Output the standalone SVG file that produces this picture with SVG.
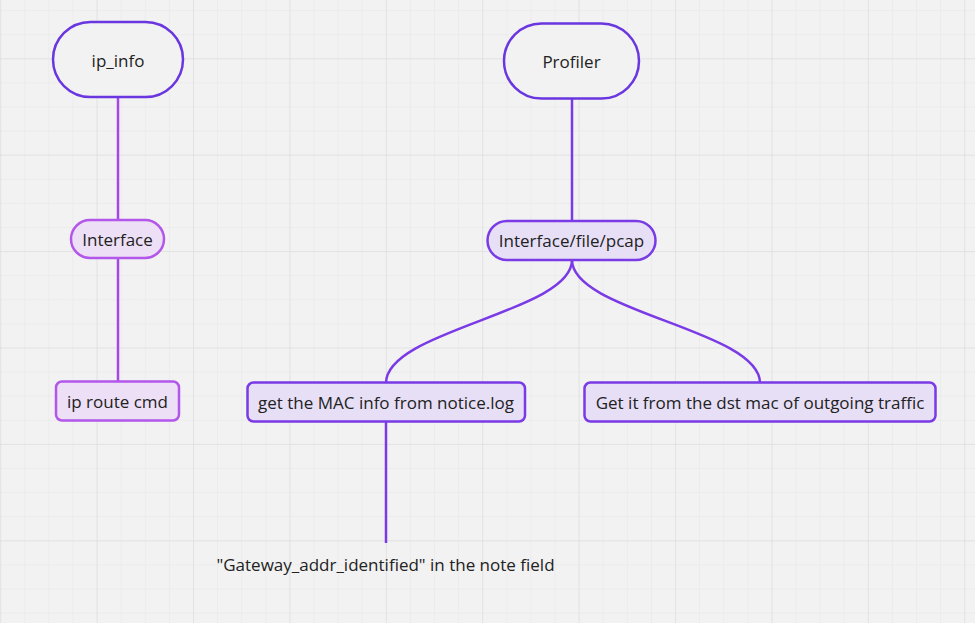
<svg xmlns="http://www.w3.org/2000/svg" width="975" height="623" viewBox="0 0 975 623">
<defs>
<pattern id="minor" x="0.2" y="10.1" width="24.1" height="24.1" patternUnits="userSpaceOnUse">
<path d="M0,0 H24.1 M0,0 V24.1" fill="none" stroke="#e6e6e6" stroke-width="1"/>
</pattern>
<pattern id="major" x="0.2" y="58.3" width="96.4" height="96.4" patternUnits="userSpaceOnUse">
<path d="M0,0 H96.4 M0,0 V96.4" fill="none" stroke="#dadada" stroke-width="1"/>
</pattern>
<style>
text{font-family:"Open Sans","Noto Sans","Liberation Sans",sans-serif;font-size:17px;fill:#222;text-anchor:middle;dominant-baseline:central}
.big{fill:#f2f2f2;stroke:#6a36e0;stroke-width:2.5}
.pink{fill:#eddff6;stroke:#b356ea;stroke-width:2.5}
.violet{fill:#e7dff6;stroke:#7a3ae6;stroke-width:2.5}
.cp{fill:none;stroke:#a547e4;stroke-width:2.5}
.cv{fill:none;stroke:#7a3ae6;stroke-width:2.5}
</style>
</defs>
<rect width="975" height="623" fill="#f2f2f2"/>
<rect width="975" height="623" fill="url(#minor)"/>
<rect width="975" height="623" fill="url(#major)"/>
<g id="connectors">
<path class="cp" d="M118,97 V220"/>
<path class="cp" d="M118,258 V382"/>
<path class="cv" d="M572,98 V221"/>
<path class="cv" d="M572,260 C572,312 386,330 386,383"/>
<path class="cv" d="M572,260 C572,312 760,330 760,383"/>
<path class="cv" d="M386,421 V543"/>
</g>
<g id="ip_info">
<rect class="big" x="53" y="22" width="130" height="75" rx="37.5"/>
<text x="118" y="60">ip_info</text>
</g>
<g id="interface">
<rect class="pink" x="71" y="220" width="93" height="38" rx="19"/>
<text x="117.5" y="239.5">Interface</text>
</g>
<g id="ip_route">
<rect class="pink" x="56" y="381.5" width="123" height="39" rx="6"/>
<text x="117.5" y="401.5">ip route cmd</text>
</g>
<g id="profiler">
<rect class="big" x="504" y="23.5" width="135" height="75" rx="37.5"/>
<text x="571.5" y="61">Profiler</text>
</g>
<g id="iface_file_pcap">
<rect class="violet" x="487.5" y="221" width="168" height="39" rx="19.5"/>
<text x="571.5" y="240.5">Interface/file/pcap</text>
</g>
<g id="mac_notice">
<rect class="violet" x="247.5" y="382.5" width="277.5" height="39" rx="6"/>
<text x="386" y="402.5">get the MAC info from notice.log</text>
</g>
<g id="dst_mac">
<rect class="violet" x="584.5" y="382.5" width="351" height="39" rx="6"/>
<text x="760" y="402.5">Get it from the dst mac of outgoing traffic</text>
</g>
<g id="gateway_note">
<text x="385.5" y="564.5">"Gateway_addr_identified" in the note field</text>
</g>
</svg>
